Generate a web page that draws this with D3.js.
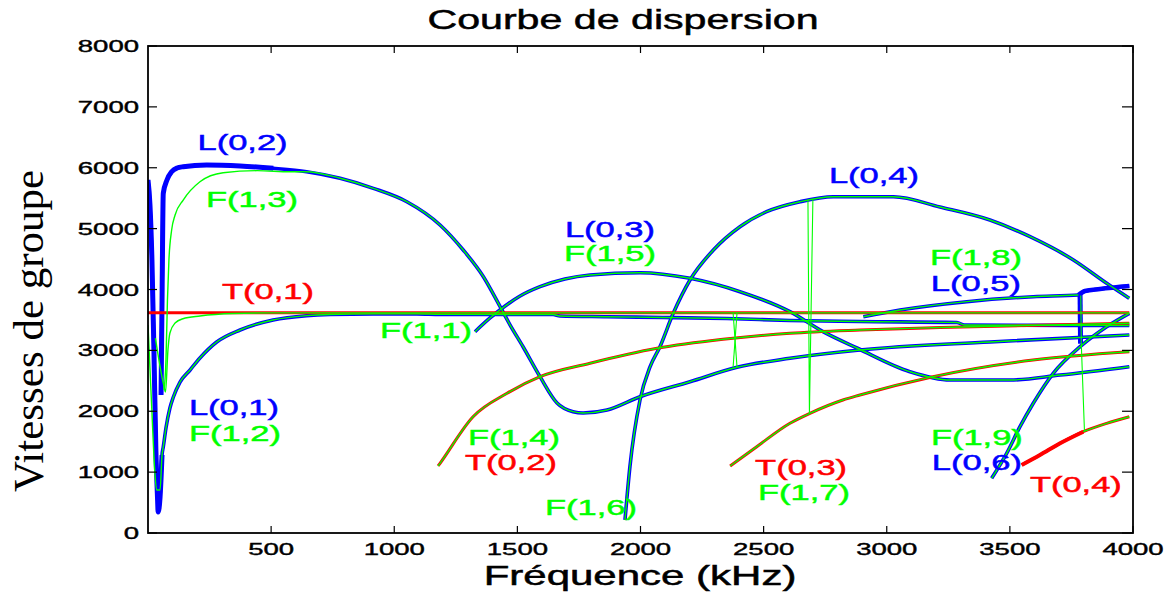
<!DOCTYPE html>
<html>
<head>
<meta charset="utf-8">
<script src="https://cdn.jsdelivr.net/npm/d3@7"></script>
<style>
  body { margin: 0; background: #fff; }
  svg { display: block; }
</style>
</head>
<body>
<svg id="chart" width="1173" height="594"></svg>
<script>
// Group velocity dispersion curves: [frequency (kHz), group velocity (m/s)]

// Longitudinal modes
const L01 = [[0,5799],[8,5388],[16,4485],[24,3006],[32,1363],[39,542],[41,345],[49,591],[57,1281],[62,1413],[73,1725],[89,2053],[103,2234],[130,2480],[171,2678],[211,2875],[279,3138],[374,3335],[508,3499],[644,3570],[739,3590],[914,3600],[1092,3600],[1186,3592],[1645,3589],[1673,3565],[1864,3553],[2091,3540],[2351,3524],[2607,3491],[2891,3474],[3285,3458],[3315,3417],[3985,3409]];
const L02 = [[53,2267],[57,3827],[62,5580],[77,5799],[96,5935],[118,5996],[143,6017],[238,6045],[374,6029],[509,5991],[644,5935],[780,5827],[915,5662],[1051,5442],[1186,5060],[1280,4649],[1362,4210],[1430,3717],[1470,3420],[1523,3060],[1592,2568],[1661,2136],[1726,1993],[1767,1971],[1864,2021],[1998,2239],[2201,2485],[2392,2722],[2607,2870],[2891,3006],[3419,3138],[3985,3253]];
const L03 = [[1328,3307],[1389,3532],[1429,3663],[1511,3893],[1592,4046],[1693,4172],[1795,4238],[1998,4276],[2201,4184],[2404,3964],[2607,3635],[2741,3307],[2879,3039],[3094,2650],[3257,2513],[3500,2513],[3704,2595],[3985,2732]];
const L04 = [[1937,214],[1957,1089],[1998,2185],[2039,2732],[2079,3060],[2133,3609],[2201,4156],[2296,4649],[2404,5032],[2512,5278],[2648,5442],[2783,5524],[3027,5524],[3216,5355],[3419,5142],[3582,4867],[3758,4485],[3893,4102],[3985,3855]];
const L05 = [[2905,3553],[3054,3663],[3325,3800],[3595,3882],[3778,3910],[3805,3975],[3866,4008],[3985,4057]];
const L05_dip = [[3785,3926],[3787,3110]];
const L06 = [[3426,899],[3487,1309],[3541,1746],[3595,2131],[3676,2623],[3785,3060],[3893,3389],[3985,3609]];

// Torsional modes
const T01 = [[0,3620],[3985,3620]];
const T02 = [[1178,1101],[1186,1145],[1320,1910],[1458,2295],[1592,2568],[1795,2788],[2067,3034],[2335,3182],[2607,3281],[2891,3335],[3216,3376],[3985,3445]];
const T03 = [[2364,1101],[2472,1418],[2607,1802],[2688,1966],[2822,2185],[2891,2267],[3188,2568],[3594,2842],[3985,2978]];
const T04 = [[3548,1117],[3622,1281],[3704,1474],[3798,1664],[3893,1802],[3985,1910]];

// Flexural modes: low-frequency branches that do not follow an L or T curve
const F11 = [[30,3203],[62,2464],[71,2316],[81,3006],[89,3285],[110,3450],[142,3520],[211,3565],[345,3606],[508,3616],[3985,3616]];
const F12_low = [[0,3417],[15,2075],[28,986],[35,706],[49,706]];
const F13_low = [[65,2349],[73,2842],[79,3827],[85,4485],[96,4977],[110,5224],[143,5470],[211,5771],[305,5919],[443,5952],[577,5935]];
// Flexural branch jumps between curves
const F_jumps = [
  [[2376,3620],[2392,2722]],
  [[2392,3620],[2376,2722]],
  [[2680,5460],[2686,1966],[2700,5470]],
  [[3788,3900],[3790,3110],[3803,1664]]
];

// Axis ticks
const xTicks = [500,1000,1500,2000,2500,3000,3500,4000];
const yTicks = [0,1000,2000,3000,4000,5000,6000,7000,8000];

// Curve labels: [text, frequency, velocity, family]
const labels = [
  ["L(0,2)",384,6292,"L"],["F(1,3)",422,5355,"F"],["T(0,1)",487,3844,"T"],
  ["F(1,1)",1129,3203,"F"],["L(0,1)",349,1938,"L"],["F(1,2)",353,1511,"F"],
  ["L(0,3)",1876,4862,"L"],["F(1,5)",1876,4468,"F"],["L(0,4)",2948,5749,"L"],
  ["F(1,8)",3362,4402,"F"],["L(0,5)",3362,3975,"L"],["F(1,4)",1486,1446,"F"],
  ["T(0,2)",1474,1035,"T"],["F(1,6)",1799,296,"F"],["T(0,3)",2652,953,"T"],
  ["F(1,7)",2664,542,"F"],["F(1,9)",3366,1446,"F"],["L(0,6)",3366,1035,"L"],
  ["T(0,4)",3768,674,"T"]
];

const colors = { L: "#0000ff", T: "#ff0000", F: "#00ff00" };

const svg = d3.select("#chart");
const mLeft = 148, mRight = 1133, mTop = 46, mBottom = 533;
const x = d3.scaleLinear().domain([0, 4000]).range([mLeft, mRight]);
const y = d3.scaleLinear().domain([0, 8000]).range([mBottom, mTop]);
const smooth = d3.line().x(d => x(d[0])).y(d => y(d[1])).curve(d3.curveMonotoneX);
const straight = d3.line().x(d => x(d[0])).y(d => y(d[1]));

svg.append("defs").append("clipPath").attr("id", "plotClip")
  .append("rect").attr("x", mLeft).attr("y", mTop)
  .attr("width", mRight - mLeft).attr("height", mBottom - mTop);

const plot = svg.append("g").attr("clip-path", "url(#plotClip)");

function draw(data, color, width, gen = smooth) {
  plot.append("path").datum(data)
    .attr("d", gen).attr("fill", "none")
    .attr("stroke", color).attr("stroke-width", width)
    .attr("stroke-linejoin", "round").attr("stroke-linecap", "butt");
}

// Longitudinal modes (blue)
[L01, L02, L03, L04, L05, L06].forEach(s => draw(s, colors.L, 3.6));
draw(L01.filter(d => d[0] <= 57), colors.L, 5);
draw(L02.filter(d => d[0] <= 509), colors.L, 5);
draw(L05.filter(d => d[0] >= 3778), colors.L, 4.5);
draw(L05_dip, colors.L, 5, straight);

// Torsional modes (red)
[T01, T02, T03].forEach(s => draw(s, colors.T, 3));
draw(T04, colors.T, 3);
draw(T04.filter(d => d[0] <= 3798), colors.T, 4);

// Flexural modes (green), drawn on top of the curves they coincide with
const F12 = F12_low.concat(L01.filter(d => d[0] >= 57));
const F13 = F13_low.concat(L02.filter(d => d[0] >= 644));
const F14 = T02, F15 = L03, F16 = L04, F17 = T03;
const F18 = L05.filter(d => d[0] < 3780);
const F19 = L06;
const F_T04 = T04.filter(d => d[0] >= 3798);
[F11, F12, F13, F14, F15, F16, F17, F18, F19, F_T04].forEach(s => draw(s, colors.F, 1.4));
F_jumps.forEach(s => draw(s, colors.F, 1.1, straight));

// Stretched text helper
function stext(g, txt, px, py, size, sx, anchor, family, fill, sw) {
  return g.append("text")
    .attr("transform", `translate(${px},${py}) scale(${sx},1)`)
    .attr("text-anchor", anchor)
    .attr("font-family", family)
    .attr("font-size", size)
    .attr("fill", fill)
    .attr("stroke", fill)
    .attr("stroke-width", sw)
    .text(txt);
}

const sans = "Liberation Sans, Arial, sans-serif";

// Curve labels
const lab = svg.append("g");
labels.forEach(([t, f, v, fam]) => {
  stext(lab, t, x(f), y(v), 23, 1.5, "middle", sans, colors[fam], 0.5);
});

// Axes box with inward ticks on all sides
const ax = svg.append("g").attr("stroke", "#000").attr("fill", "none");
ax.append("rect").attr("x", mLeft).attr("y", mTop)
  .attr("width", mRight - mLeft).attr("height", mBottom - mTop)
  .attr("stroke-width", 1.8);
xTicks.forEach(t => {
  ax.append("line").attr("x1", x(t)).attr("x2", x(t)).attr("y1", mBottom).attr("y2", mBottom - 7).attr("stroke-width", 1.2);
  ax.append("line").attr("x1", x(t)).attr("x2", x(t)).attr("y1", mTop).attr("y2", mTop + 7).attr("stroke-width", 1.2);
});
yTicks.forEach(t => {
  ax.append("line").attr("x1", mLeft).attr("x2", mLeft + 9).attr("y1", y(t)).attr("y2", y(t)).attr("stroke-width", 1.2);
  ax.append("line").attr("x1", mRight).attr("x2", mRight - 11).attr("y1", y(t)).attr("y2", y(t)).attr("stroke-width", 1.2);
});

const txt = svg.append("g");
xTicks.forEach(t => stext(txt, String(t), x(t), 555, 17, 1.62, "middle", sans, "#000", 0.4));
yTicks.forEach(t => stext(txt, String(t), 139, y(t) + 6, 17, 1.62, "end", sans, "#000", 0.4));

// Titles
stext(txt, "Courbe de dispersion", 623, 29, 28, 1.47, "middle", sans, "#000", 0.5);
stext(txt, "Fréquence (kHz)", 640, 585, 28, 1.5, "middle", sans, "#000", 0.5);
txt.append("text")
  .attr("transform", "translate(43,331) rotate(-90)")
  .attr("text-anchor", "middle")
  .attr("font-family", "Liberation Serif, Times New Roman, serif")
  .attr("font-size", 43)
  .attr("fill", "#000")
  .text("Vitesses de groupe");
</script>
</body>
</html>
